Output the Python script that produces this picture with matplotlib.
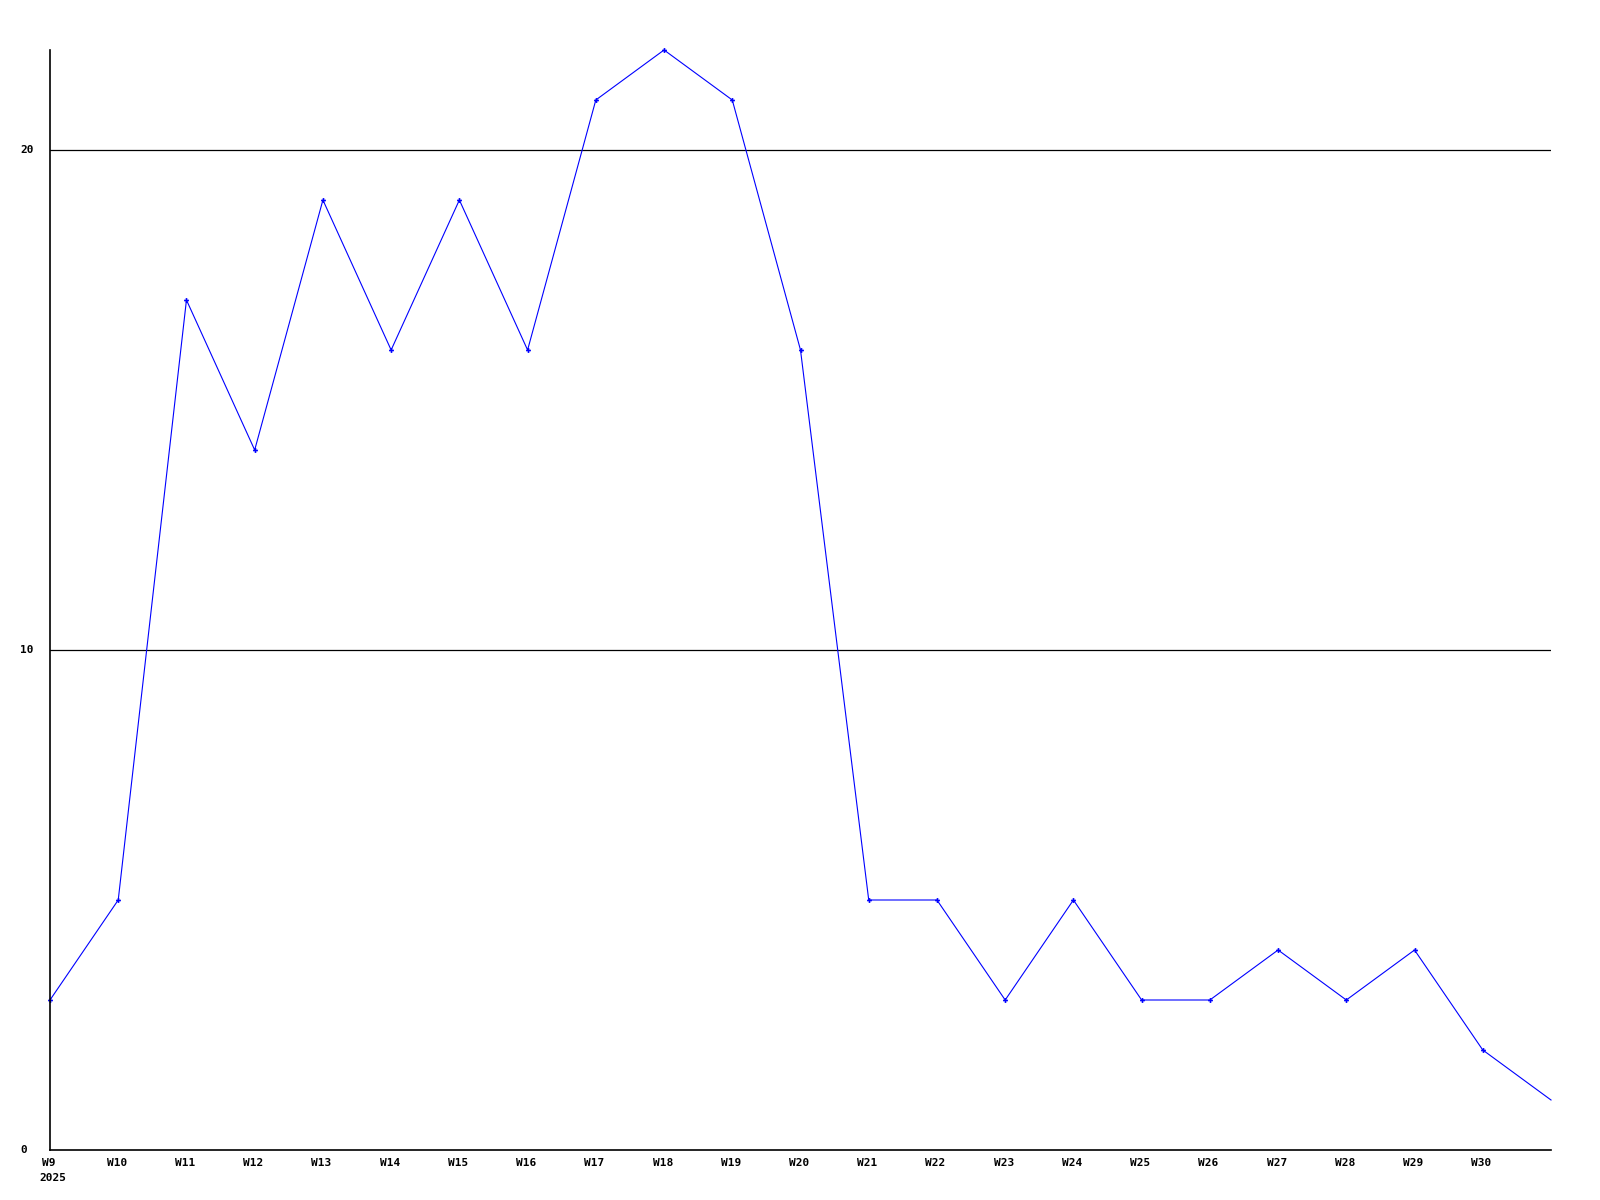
import matplotlib
matplotlib.use("Agg")
import matplotlib.pyplot as plt
from matplotlib.transforms import blended_transform_factory

# weekly counts, W9..W30 plus the partial week at the right edge
weeks = ["W%d" % w for w in range(9, 32)]
values = [3, 5, 17, 14, 19, 16, 19, 16, 21, 22, 21, 16, 5, 5, 3, 5, 3, 3, 4, 3, 4, 2, 1]
tick_labels = weeks[:-1]
yticks = [0, 10, 20]
year_label = "2025"

W, H = 1600, 1200
fig = plt.figure(figsize=(16, 12), dpi=100)
left, right, top, bottom = 50, 1551, 50, 1150
ax = fig.add_axes([left / W, 1 - bottom / H, (right - left) / W, (bottom - top) / H])

x = list(range(len(values)))
ax.plot(x, values, color="#0000ff", lw=0.8, marker="P", ms=3.5, mew=0,
        markevery=list(range(len(values) - 1)), clip_on=False)

ax.set_xlim(0, len(values) - 1)
ax.set_ylim(0, 22)

for s in ["top", "right"]:
    ax.spines[s].set_visible(False)
for s in ["left", "bottom"]:
    ax.spines[s].set_linewidth(1.2)
    ax.spines[s].set_color("black")

for yv in yticks[1:]:
    ax.axhline(yv, color="black", lw=0.9, zorder=0)

font = dict(family="DejaVu Sans Mono", weight="bold", size=8)
ax.set_xticks([])
ax.set_yticks([])

trx = blended_transform_factory(ax.transData, ax.transAxes)
for i, lab in enumerate(tick_labels):
    ax.text(i - 0.02, -0.0075, lab, transform=trx, ha="center", va="top", **font)
ax.text(-0.15, -0.021, year_label, transform=trx, ha="left", va="top", **font)

try_ = blended_transform_factory(ax.transAxes, ax.transData)
for yv in yticks:
    ax.text(-(left - 20) / (right - left), yv, str(yv), transform=try_,
            ha="left", va="center", **font)

fig.savefig("out.png", dpi=100)
